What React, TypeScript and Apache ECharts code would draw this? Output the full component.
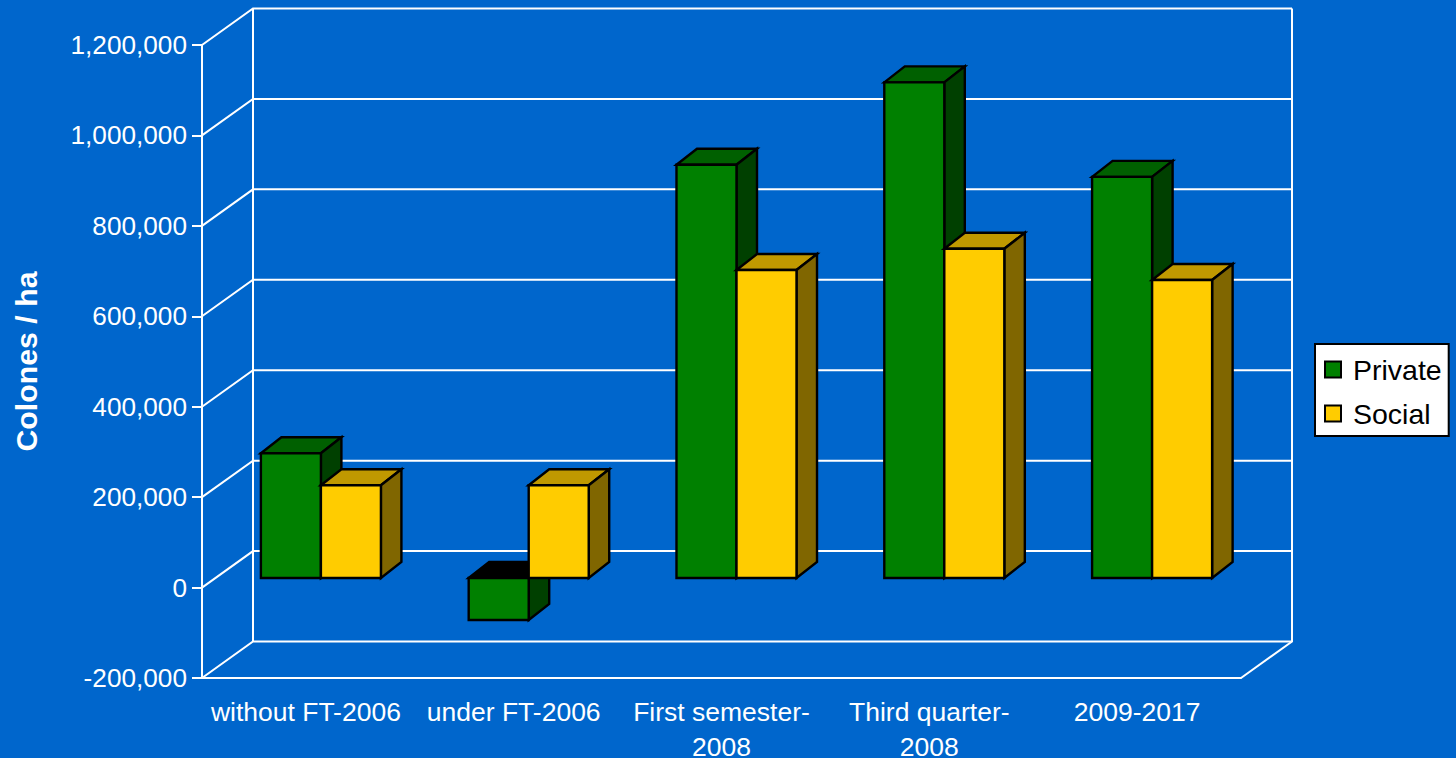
import React, { useEffect, useRef } from "react";
import * as echarts from "echarts";

const categories = ["without FT-2006", "under FT-2006", "First semester-\n2008", "Third quarter-\n2008", "2009-2017"];
const privateValues = [276000, -93000, 914000, 1096000, 887000];
const socialValues = [205000, 205000, 681000, 728000, 659000];
const gridValues = [-200000, 0, 200000, 400000, 600000, 800000, 1000000, 1200000];

const WALL_DX = 51;
const WALL_DY = -36.5;
const BAR_SHIFT_Y = -9.6;
const BAR_DEPTH_X = 20.5;
const BAR_DEPTH_Y = -16;
const BAR_WIDTH_RATIO = 0.2888;
const GROUP_OFFSET_RATIO = -0.2166;

function barRenderer(seriesIndex: number, front: string, top: string, side: string) {
  return (params: any, api: any) => {
    const i = api.value(0);
    const v = api.value(1);
    const band = api.size([1, 0])[0];
    const w = band * BAR_WIDTH_RATIO;
    const cx = api.coord([i, 0])[0];
    const x0 = cx + band * GROUP_OFFSET_RATIO + seriesIndex * w;
    const x1 = x0 + w;
    const yZero = api.coord([i, 0])[1] + BAR_SHIFT_Y;
    const yVal = api.coord([i, v])[1] + BAR_SHIFT_Y;
    const yTop = Math.min(yZero, yVal);
    const yBot = Math.max(yZero, yVal);
    const dx = BAR_DEPTH_X;
    const dy = BAR_DEPTH_Y;
    const stroke = { stroke: "#000", lineWidth: 2.4, lineJoin: "miter" };
    return {
      type: "group",
      children: [
        {
          type: "polygon",
          shape: { points: [[x0, yTop], [x0 + dx, yTop + dy], [x1 + dx, yTop + dy], [x1, yTop]] },
          style: { fill: v < 0 ? "#000000" : top, ...stroke },
        },
        {
          type: "polygon",
          shape: { points: [[x1, yTop], [x1 + dx, yTop + dy], [x1 + dx, yBot + dy], [x1, yBot]] },
          style: { fill: side, ...stroke },
        },
        {
          type: "polygon",
          shape: { points: [[x0, yTop], [x1, yTop], [x1, yBot], [x0, yBot]] },
          style: { fill: front, ...stroke },
        },
      ],
    };
  };
}

function wallRenderer(params: any, api: any) {
  const v = api.value(1);
  const sys = params.coordSys;
  const y = api.coord([0, v])[1];
  const xL = sys.x;
  const xR = sys.x + sys.width;
  const line = { stroke: "#fff", lineWidth: 2, fill: "none" };
  const children: any[] = [
    {
      type: "polyline",
      shape: { points: [[xL, y], [xL + WALL_DX, y + WALL_DY], [xR + WALL_DX, y + WALL_DY]] },
      style: line,
    },
  ];
  if (params.dataIndex === 0) {
    children.push({
      type: "polyline",
      shape: {
        points: [
          [xL + WALL_DX, sys.y + WALL_DY],
          [xL + WALL_DX, y + WALL_DY],
        ],
      },
      style: line,
    });
    children.push({
      type: "polyline",
      shape: {
        points: [
          [xR, y],
          [xR + WALL_DX, y + WALL_DY],
          [xR + WALL_DX, sys.y + WALL_DY],
        ],
      },
      style: line,
    });
  }
  return { type: "group", children };
}

export default function App() {
  const ref = useRef<HTMLDivElement>(null);
  useEffect(() => {
    const chart = echarts.init(ref.current!, null, { renderer: "svg" });
    const font = "Liberation Sans, Arial, sans-serif";
    chart.setOption({
      animation: false,
      backgroundColor: "#0066CC",
      textStyle: { fontFamily: font },
      grid: { left: 202, top: 45, width: 1039, height: 633, containLabel: false, outerBoundsMode: "none" },
      legend: {
        data: ["Private", "Social"],
        orient: "vertical",
        left: 1315,
        top: 344,
        padding: [11, 7, 8, 9],
        itemGap: 15,
        itemWidth: 16,
        itemHeight: 16,
        icon: "rect",
        backgroundColor: "#fff",
        borderColor: "#000",
        borderWidth: 2,
        selectedMode: false,
        textStyle: { color: "#000", fontSize: 28.5, fontFamily: font, padding: [0, 0, 0, 7] },
      },
      xAxis: {
        type: "category",
        data: categories,
        axisTick: { show: false },
        axisLine: { show: true, onZero: false, lineStyle: { color: "#fff", width: 2 } },
        splitLine: { show: false },
        axisLabel: { color: "#fff", fontSize: 26.5, fontFamily: font, interval: 0, margin: 16, lineHeight: 35, hideOverlap: false },
      },
      yAxis: {
        type: "value",
        min: -200000,
        max: 1200000,
        interval: 200000,
        name: "Colones / ha",
        nameLocation: "middle",
        nameRotate: 90,
        nameGap: 161,
        nameTextStyle: { color: "#fff", fontSize: 30.3, fontWeight: "bold", fontFamily: font },
        axisLine: { show: true, lineStyle: { color: "#fff", width: 2 } },
        axisTick: { show: true, length: 10, lineStyle: { color: "#fff", width: 2 } },
        splitLine: { show: false },
        axisLabel: {
          color: "#fff",
          fontSize: 26.2,
          fontFamily: font,
          margin: 15,
          formatter: (v: number) => v.toLocaleString("en-US"),
        },
      },
      series: [
        {
          type: "custom",
          name: "walls",
          renderItem: wallRenderer,
          data: gridValues.map((v) => [0, v]),
          encode: { x: 0, y: 1 },
          silent: true,
          z: 1,
        },
        {
          type: "custom",
          name: "Private",
          renderItem: barRenderer(0, "#008000", "#006000", "#004000"),
          data: privateValues.map((v, i) => [i, v]),
          encode: { x: 0, y: 1 },
          itemStyle: { color: "#008000", borderColor: "#000", borderWidth: 2 },
          z: 2,
        },
        {
          type: "custom",
          name: "Social",
          renderItem: barRenderer(1, "#FFCC00", "#C09900", "#806600"),
          data: socialValues.map((v, i) => [i, v]),
          encode: { x: 0, y: 1 },
          itemStyle: { color: "#FFCC00", borderColor: "#000", borderWidth: 2 },
          z: 3,
        },
      ],
    });
    return () => chart.dispose();
  }, []);
  return <div ref={ref} style={{ position: "fixed", left: 0, top: 0, width: 1456, height: 758, background: "#0066CC" }} />;
}
